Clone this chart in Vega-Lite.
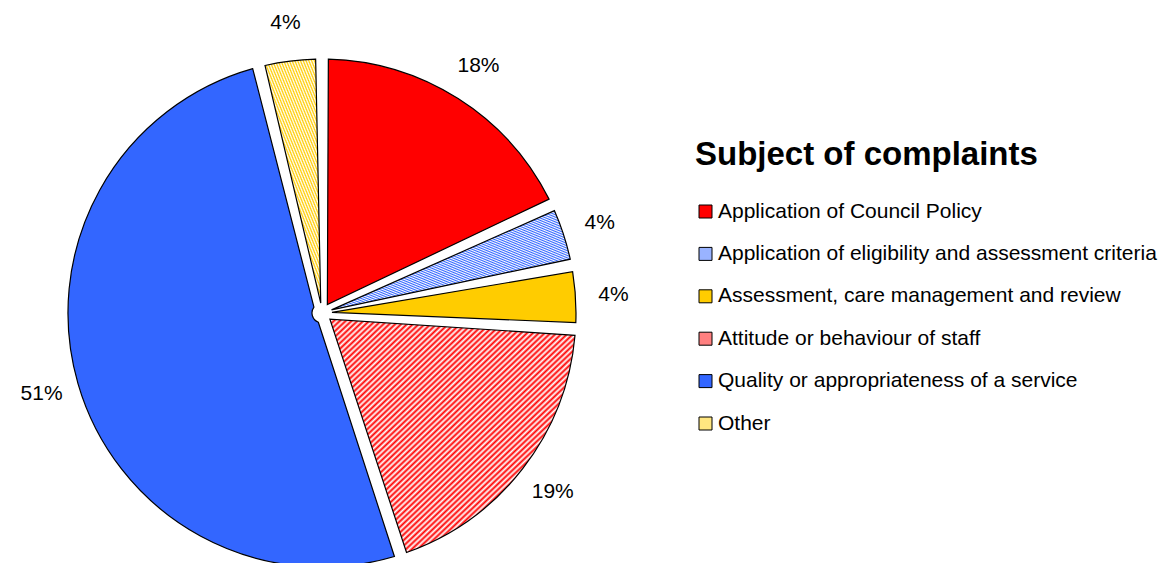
{
  "$schema": "https://vega.github.io/schema/vega-lite/v6.json",
  "width": 644,
  "height": 500,
  "autosize": {"type": "none"},
  "padding": {"left": 0, "top": 63, "right": 522, "bottom": 0},
  "background": "white",
  "config": {"view": {"stroke": null}, "font": "Liberation Sans"},
  "data": {"values": [
    {"n": 1, "subject": "Application of Council Policy", "share": 0.18},
    {"n": 2, "subject": "Application of eligibility and assessment criteria", "share": 0.04},
    {"n": 3, "subject": "Assessment, care management and review", "share": 0.04},
    {"n": 4, "subject": "Attitude or behaviour of staff", "share": 0.19},
    {"n": 5, "subject": "Quality or appropriateness of a service", "share": 0.51},
    {"n": 6, "subject": "Other", "share": 0.04}
  ]},
  "encoding": {
    "theta": {"field": "share", "type": "quantitative", "stack": true},
    "order": {"field": "n", "type": "quantitative"},
    "detail": {"field": "subject", "type": "nominal"}
  },
  "layer": [
    {
      "mark": {"type": "arc", "outerRadius": 254, "innerRadius": 10, "padAngle": 0.05, "stroke": "black", "strokeWidth": 1.2},
      "encoding": {
        "fill": {
          "field": "subject",
          "type": "nominal",
          "scale": {
            "domain": ["Application of Council Policy", "Application of eligibility and assessment criteria", "Assessment, care management and review", "Attitude or behaviour of staff", "Quality or appropriateness of a service", "Other"],
            "range": ["#FF0000", "#99B3FF", "#FFCC00", "#FF8080", "#3366FF", "#FFE680"]
          },
          "legend": {
            "title": "Subject of complaints",
            "orient": "none",
            "legendX": 695,
            "legendY": 76,
            "titleFont": "Liberation Sans",
            "titleFontSize": 33,
            "titleFontWeight": "bold",
            "titleColor": "black",
            "titleLimit": 700,
            "titlePadding": 29,
            "labelFont": "Liberation Sans",
            "labelFontSize": 21,
            "labelColor": "black",
            "labelLimit": 700,
            "labelOffset": 2,
            "symbolType": "square",
            "symbolSize": 169,
            "symbolStrokeColor": "black",
            "symbolStrokeWidth": 1,
            "rowPadding": 20.4
          },
          "condition": [
            {
              "test": "datum.subject === 'Attitude or behaviour of staff'",
              "value": {"gradient": "linear", "x1": 0, "y1": 0, "x2": 1, "y2": 1, "stops": [{"offset":0,"color":"#f00"},{"offset":0.006,"color":"#fff"},{"offset":0.012,"color":"#f00"},{"offset":0.018,"color":"#fff"},{"offset":0.024,"color":"#f00"},{"offset":0.03,"color":"#fff"},{"offset":0.036,"color":"#f00"},{"offset":0.042,"color":"#fff"},{"offset":0.048,"color":"#f00"},{"offset":0.054,"color":"#fff"},{"offset":0.06,"color":"#f00"},{"offset":0.066,"color":"#fff"},{"offset":0.072,"color":"#f00"},{"offset":0.078,"color":"#fff"},{"offset":0.084,"color":"#f00"},{"offset":0.09,"color":"#fff"},{"offset":0.096,"color":"#f00"},{"offset":0.102,"color":"#fff"},{"offset":0.108,"color":"#f00"},{"offset":0.114,"color":"#fff"},{"offset":0.12,"color":"#f00"},{"offset":0.126,"color":"#fff"},{"offset":0.132,"color":"#f00"},{"offset":0.138,"color":"#fff"},{"offset":0.144,"color":"#f00"},{"offset":0.15,"color":"#fff"},{"offset":0.156,"color":"#f00"},{"offset":0.162,"color":"#fff"},{"offset":0.168,"color":"#f00"},{"offset":0.174,"color":"#fff"},{"offset":0.18,"color":"#f00"},{"offset":0.186,"color":"#fff"},{"offset":0.192,"color":"#f00"},{"offset":0.198,"color":"#fff"},{"offset":0.204,"color":"#f00"},{"offset":0.21,"color":"#fff"},{"offset":0.216,"color":"#f00"},{"offset":0.222,"color":"#fff"},{"offset":0.228,"color":"#f00"},{"offset":0.234,"color":"#fff"},{"offset":0.24,"color":"#f00"},{"offset":0.246,"color":"#fff"},{"offset":0.252,"color":"#f00"},{"offset":0.258,"color":"#fff"},{"offset":0.264,"color":"#f00"},{"offset":0.27,"color":"#fff"},{"offset":0.276,"color":"#f00"},{"offset":0.282,"color":"#fff"},{"offset":0.288,"color":"#f00"},{"offset":0.294,"color":"#fff"},{"offset":0.3,"color":"#f00"},{"offset":0.306,"color":"#fff"},{"offset":0.312,"color":"#f00"},{"offset":0.318,"color":"#fff"},{"offset":0.324,"color":"#f00"},{"offset":0.33,"color":"#fff"},{"offset":0.336,"color":"#f00"},{"offset":0.342,"color":"#fff"},{"offset":0.348,"color":"#f00"},{"offset":0.354,"color":"#fff"},{"offset":0.36,"color":"#f00"},{"offset":0.366,"color":"#fff"},{"offset":0.372,"color":"#f00"},{"offset":0.378,"color":"#fff"},{"offset":0.384,"color":"#f00"},{"offset":0.39,"color":"#fff"},{"offset":0.396,"color":"#f00"},{"offset":0.402,"color":"#fff"},{"offset":0.408,"color":"#f00"},{"offset":0.414,"color":"#fff"},{"offset":0.42,"color":"#f00"},{"offset":0.426,"color":"#fff"},{"offset":0.432,"color":"#f00"},{"offset":0.438,"color":"#fff"},{"offset":0.444,"color":"#f00"},{"offset":0.45,"color":"#fff"},{"offset":0.456,"color":"#f00"},{"offset":0.462,"color":"#fff"},{"offset":0.468,"color":"#f00"},{"offset":0.474,"color":"#fff"},{"offset":0.48,"color":"#f00"},{"offset":0.486,"color":"#fff"},{"offset":0.492,"color":"#f00"},{"offset":0.498,"color":"#fff"},{"offset":0.504,"color":"#f00"},{"offset":0.51,"color":"#fff"},{"offset":0.516,"color":"#f00"},{"offset":0.522,"color":"#fff"},{"offset":0.528,"color":"#f00"},{"offset":0.534,"color":"#fff"},{"offset":0.54,"color":"#f00"},{"offset":0.546,"color":"#fff"},{"offset":0.552,"color":"#f00"},{"offset":0.558,"color":"#fff"},{"offset":0.564,"color":"#f00"},{"offset":0.57,"color":"#fff"},{"offset":0.576,"color":"#f00"},{"offset":0.582,"color":"#fff"},{"offset":0.588,"color":"#f00"},{"offset":0.594,"color":"#fff"},{"offset":0.6,"color":"#f00"},{"offset":0.606,"color":"#fff"},{"offset":0.612,"color":"#f00"},{"offset":0.618,"color":"#fff"},{"offset":0.624,"color":"#f00"},{"offset":0.63,"color":"#fff"},{"offset":0.636,"color":"#f00"},{"offset":0.642,"color":"#fff"},{"offset":0.648,"color":"#f00"},{"offset":0.654,"color":"#fff"},{"offset":0.66,"color":"#f00"},{"offset":0.666,"color":"#fff"},{"offset":0.672,"color":"#f00"},{"offset":0.678,"color":"#fff"},{"offset":0.684,"color":"#f00"},{"offset":0.69,"color":"#fff"},{"offset":0.696,"color":"#f00"},{"offset":0.702,"color":"#fff"},{"offset":0.708,"color":"#f00"},{"offset":0.714,"color":"#fff"},{"offset":0.72,"color":"#f00"},{"offset":0.726,"color":"#fff"},{"offset":0.732,"color":"#f00"},{"offset":0.738,"color":"#fff"},{"offset":0.744,"color":"#f00"},{"offset":0.75,"color":"#fff"},{"offset":0.756,"color":"#f00"},{"offset":0.762,"color":"#fff"},{"offset":0.768,"color":"#f00"},{"offset":0.774,"color":"#fff"},{"offset":0.78,"color":"#f00"},{"offset":0.786,"color":"#fff"},{"offset":0.792,"color":"#f00"},{"offset":0.798,"color":"#fff"},{"offset":0.804,"color":"#f00"},{"offset":0.81,"color":"#fff"},{"offset":0.816,"color":"#f00"},{"offset":0.822,"color":"#fff"},{"offset":0.828,"color":"#f00"},{"offset":0.834,"color":"#fff"},{"offset":0.84,"color":"#f00"},{"offset":0.846,"color":"#fff"},{"offset":0.852,"color":"#f00"},{"offset":0.858,"color":"#fff"},{"offset":0.864,"color":"#f00"},{"offset":0.87,"color":"#fff"},{"offset":0.876,"color":"#f00"},{"offset":0.882,"color":"#fff"},{"offset":0.888,"color":"#f00"},{"offset":0.894,"color":"#fff"},{"offset":0.9,"color":"#f00"},{"offset":0.906,"color":"#fff"},{"offset":0.912,"color":"#f00"},{"offset":0.918,"color":"#fff"},{"offset":0.924,"color":"#f00"},{"offset":0.93,"color":"#fff"},{"offset":0.936,"color":"#f00"},{"offset":0.942,"color":"#fff"},{"offset":0.948,"color":"#f00"},{"offset":0.954,"color":"#fff"},{"offset":0.96,"color":"#f00"},{"offset":0.966,"color":"#fff"},{"offset":0.972,"color":"#f00"},{"offset":0.978,"color":"#fff"},{"offset":0.984,"color":"#f00"},{"offset":0.99,"color":"#fff"},{"offset":0.996,"color":"#f00"}]}
            },
            {
              "test": "datum.subject === 'Application of eligibility and assessment criteria'",
              "value": {"gradient": "linear", "x1": 0, "y1": 1, "x2": 1, "y2": 0, "stops": [{"offset":0,"color":"#36f"},{"offset":0.006,"color":"#fff"},{"offset":0.012,"color":"#36f"},{"offset":0.018,"color":"#fff"},{"offset":0.024,"color":"#36f"},{"offset":0.03,"color":"#fff"},{"offset":0.036,"color":"#36f"},{"offset":0.042,"color":"#fff"},{"offset":0.048,"color":"#36f"},{"offset":0.054,"color":"#fff"},{"offset":0.06,"color":"#36f"},{"offset":0.066,"color":"#fff"},{"offset":0.072,"color":"#36f"},{"offset":0.078,"color":"#fff"},{"offset":0.084,"color":"#36f"},{"offset":0.09,"color":"#fff"},{"offset":0.096,"color":"#36f"},{"offset":0.102,"color":"#fff"},{"offset":0.108,"color":"#36f"},{"offset":0.114,"color":"#fff"},{"offset":0.12,"color":"#36f"},{"offset":0.126,"color":"#fff"},{"offset":0.132,"color":"#36f"},{"offset":0.138,"color":"#fff"},{"offset":0.144,"color":"#36f"},{"offset":0.15,"color":"#fff"},{"offset":0.156,"color":"#36f"},{"offset":0.162,"color":"#fff"},{"offset":0.168,"color":"#36f"},{"offset":0.174,"color":"#fff"},{"offset":0.18,"color":"#36f"},{"offset":0.186,"color":"#fff"},{"offset":0.192,"color":"#36f"},{"offset":0.198,"color":"#fff"},{"offset":0.204,"color":"#36f"},{"offset":0.21,"color":"#fff"},{"offset":0.216,"color":"#36f"},{"offset":0.222,"color":"#fff"},{"offset":0.228,"color":"#36f"},{"offset":0.234,"color":"#fff"},{"offset":0.24,"color":"#36f"},{"offset":0.246,"color":"#fff"},{"offset":0.252,"color":"#36f"},{"offset":0.258,"color":"#fff"},{"offset":0.264,"color":"#36f"},{"offset":0.27,"color":"#fff"},{"offset":0.276,"color":"#36f"},{"offset":0.282,"color":"#fff"},{"offset":0.288,"color":"#36f"},{"offset":0.294,"color":"#fff"},{"offset":0.3,"color":"#36f"},{"offset":0.306,"color":"#fff"},{"offset":0.312,"color":"#36f"},{"offset":0.318,"color":"#fff"},{"offset":0.324,"color":"#36f"},{"offset":0.33,"color":"#fff"},{"offset":0.336,"color":"#36f"},{"offset":0.342,"color":"#fff"},{"offset":0.348,"color":"#36f"},{"offset":0.354,"color":"#fff"},{"offset":0.36,"color":"#36f"},{"offset":0.366,"color":"#fff"},{"offset":0.372,"color":"#36f"},{"offset":0.378,"color":"#fff"},{"offset":0.384,"color":"#36f"},{"offset":0.39,"color":"#fff"},{"offset":0.396,"color":"#36f"},{"offset":0.402,"color":"#fff"},{"offset":0.408,"color":"#36f"},{"offset":0.414,"color":"#fff"},{"offset":0.42,"color":"#36f"},{"offset":0.426,"color":"#fff"},{"offset":0.432,"color":"#36f"},{"offset":0.438,"color":"#fff"},{"offset":0.444,"color":"#36f"},{"offset":0.45,"color":"#fff"},{"offset":0.456,"color":"#36f"},{"offset":0.462,"color":"#fff"},{"offset":0.468,"color":"#36f"},{"offset":0.474,"color":"#fff"},{"offset":0.48,"color":"#36f"},{"offset":0.486,"color":"#fff"},{"offset":0.492,"color":"#36f"},{"offset":0.498,"color":"#fff"},{"offset":0.504,"color":"#36f"},{"offset":0.51,"color":"#fff"},{"offset":0.516,"color":"#36f"},{"offset":0.522,"color":"#fff"},{"offset":0.528,"color":"#36f"},{"offset":0.534,"color":"#fff"},{"offset":0.54,"color":"#36f"},{"offset":0.546,"color":"#fff"},{"offset":0.552,"color":"#36f"},{"offset":0.558,"color":"#fff"},{"offset":0.564,"color":"#36f"},{"offset":0.57,"color":"#fff"},{"offset":0.576,"color":"#36f"},{"offset":0.582,"color":"#fff"},{"offset":0.588,"color":"#36f"},{"offset":0.594,"color":"#fff"},{"offset":0.6,"color":"#36f"},{"offset":0.606,"color":"#fff"},{"offset":0.612,"color":"#36f"},{"offset":0.618,"color":"#fff"},{"offset":0.624,"color":"#36f"},{"offset":0.63,"color":"#fff"},{"offset":0.636,"color":"#36f"},{"offset":0.642,"color":"#fff"},{"offset":0.648,"color":"#36f"},{"offset":0.654,"color":"#fff"},{"offset":0.66,"color":"#36f"},{"offset":0.666,"color":"#fff"},{"offset":0.672,"color":"#36f"},{"offset":0.678,"color":"#fff"},{"offset":0.684,"color":"#36f"},{"offset":0.69,"color":"#fff"},{"offset":0.696,"color":"#36f"},{"offset":0.702,"color":"#fff"},{"offset":0.708,"color":"#36f"},{"offset":0.714,"color":"#fff"},{"offset":0.72,"color":"#36f"},{"offset":0.726,"color":"#fff"},{"offset":0.732,"color":"#36f"},{"offset":0.738,"color":"#fff"},{"offset":0.744,"color":"#36f"},{"offset":0.75,"color":"#fff"},{"offset":0.756,"color":"#36f"},{"offset":0.762,"color":"#fff"},{"offset":0.768,"color":"#36f"},{"offset":0.774,"color":"#fff"},{"offset":0.78,"color":"#36f"},{"offset":0.786,"color":"#fff"},{"offset":0.792,"color":"#36f"},{"offset":0.798,"color":"#fff"},{"offset":0.804,"color":"#36f"},{"offset":0.81,"color":"#fff"},{"offset":0.816,"color":"#36f"},{"offset":0.822,"color":"#fff"},{"offset":0.828,"color":"#36f"},{"offset":0.834,"color":"#fff"},{"offset":0.84,"color":"#36f"},{"offset":0.846,"color":"#fff"},{"offset":0.852,"color":"#36f"},{"offset":0.858,"color":"#fff"},{"offset":0.864,"color":"#36f"},{"offset":0.87,"color":"#fff"},{"offset":0.876,"color":"#36f"},{"offset":0.882,"color":"#fff"},{"offset":0.888,"color":"#36f"},{"offset":0.894,"color":"#fff"},{"offset":0.9,"color":"#36f"},{"offset":0.906,"color":"#fff"},{"offset":0.912,"color":"#36f"},{"offset":0.918,"color":"#fff"},{"offset":0.924,"color":"#36f"},{"offset":0.93,"color":"#fff"},{"offset":0.936,"color":"#36f"},{"offset":0.942,"color":"#fff"},{"offset":0.948,"color":"#36f"},{"offset":0.954,"color":"#fff"},{"offset":0.96,"color":"#36f"},{"offset":0.966,"color":"#fff"},{"offset":0.972,"color":"#36f"},{"offset":0.978,"color":"#fff"},{"offset":0.984,"color":"#36f"},{"offset":0.99,"color":"#fff"},{"offset":0.996,"color":"#36f"}]}
            },
            {
              "test": "datum.subject === 'Other'",
              "value": {"gradient": "linear", "x1": 0, "y1": 0, "x2": 1, "y2": 1, "stops": [{"offset":0,"color":"#fc0"},{"offset":0.007,"color":"#fff"},{"offset":0.014,"color":"#fc0"},{"offset":0.021,"color":"#fff"},{"offset":0.028,"color":"#fc0"},{"offset":0.035,"color":"#fff"},{"offset":0.042,"color":"#fc0"},{"offset":0.049,"color":"#fff"},{"offset":0.056,"color":"#fc0"},{"offset":0.063,"color":"#fff"},{"offset":0.07,"color":"#fc0"},{"offset":0.077,"color":"#fff"},{"offset":0.084,"color":"#fc0"},{"offset":0.091,"color":"#fff"},{"offset":0.098,"color":"#fc0"},{"offset":0.105,"color":"#fff"},{"offset":0.112,"color":"#fc0"},{"offset":0.119,"color":"#fff"},{"offset":0.126,"color":"#fc0"},{"offset":0.133,"color":"#fff"},{"offset":0.14,"color":"#fc0"},{"offset":0.147,"color":"#fff"},{"offset":0.154,"color":"#fc0"},{"offset":0.161,"color":"#fff"},{"offset":0.168,"color":"#fc0"},{"offset":0.175,"color":"#fff"},{"offset":0.182,"color":"#fc0"},{"offset":0.189,"color":"#fff"},{"offset":0.196,"color":"#fc0"},{"offset":0.203,"color":"#fff"},{"offset":0.21,"color":"#fc0"},{"offset":0.217,"color":"#fff"},{"offset":0.224,"color":"#fc0"},{"offset":0.231,"color":"#fff"},{"offset":0.238,"color":"#fc0"},{"offset":0.245,"color":"#fff"},{"offset":0.252,"color":"#fc0"},{"offset":0.259,"color":"#fff"},{"offset":0.266,"color":"#fc0"},{"offset":0.273,"color":"#fff"},{"offset":0.28,"color":"#fc0"},{"offset":0.287,"color":"#fff"},{"offset":0.294,"color":"#fc0"},{"offset":0.301,"color":"#fff"},{"offset":0.308,"color":"#fc0"},{"offset":0.315,"color":"#fff"},{"offset":0.322,"color":"#fc0"},{"offset":0.329,"color":"#fff"},{"offset":0.336,"color":"#fc0"},{"offset":0.343,"color":"#fff"},{"offset":0.35,"color":"#fc0"},{"offset":0.357,"color":"#fff"},{"offset":0.364,"color":"#fc0"},{"offset":0.371,"color":"#fff"},{"offset":0.378,"color":"#fc0"},{"offset":0.385,"color":"#fff"},{"offset":0.392,"color":"#fc0"},{"offset":0.399,"color":"#fff"},{"offset":0.406,"color":"#fc0"},{"offset":0.413,"color":"#fff"},{"offset":0.42,"color":"#fc0"},{"offset":0.427,"color":"#fff"},{"offset":0.434,"color":"#fc0"},{"offset":0.441,"color":"#fff"},{"offset":0.448,"color":"#fc0"},{"offset":0.455,"color":"#fff"},{"offset":0.462,"color":"#fc0"},{"offset":0.469,"color":"#fff"},{"offset":0.476,"color":"#fc0"},{"offset":0.483,"color":"#fff"},{"offset":0.49,"color":"#fc0"},{"offset":0.497,"color":"#fff"},{"offset":0.504,"color":"#fc0"},{"offset":0.511,"color":"#fff"},{"offset":0.518,"color":"#fc0"},{"offset":0.525,"color":"#fff"},{"offset":0.532,"color":"#fc0"},{"offset":0.539,"color":"#fff"},{"offset":0.546,"color":"#fc0"},{"offset":0.553,"color":"#fff"},{"offset":0.56,"color":"#fc0"},{"offset":0.567,"color":"#fff"},{"offset":0.574,"color":"#fc0"},{"offset":0.581,"color":"#fff"},{"offset":0.588,"color":"#fc0"},{"offset":0.595,"color":"#fff"},{"offset":0.602,"color":"#fc0"},{"offset":0.609,"color":"#fff"},{"offset":0.616,"color":"#fc0"},{"offset":0.623,"color":"#fff"},{"offset":0.63,"color":"#fc0"},{"offset":0.637,"color":"#fff"},{"offset":0.644,"color":"#fc0"},{"offset":0.651,"color":"#fff"},{"offset":0.658,"color":"#fc0"},{"offset":0.665,"color":"#fff"},{"offset":0.672,"color":"#fc0"},{"offset":0.679,"color":"#fff"},{"offset":0.686,"color":"#fc0"},{"offset":0.693,"color":"#fff"},{"offset":0.7,"color":"#fc0"},{"offset":0.707,"color":"#fff"},{"offset":0.714,"color":"#fc0"},{"offset":0.721,"color":"#fff"},{"offset":0.728,"color":"#fc0"},{"offset":0.735,"color":"#fff"},{"offset":0.742,"color":"#fc0"},{"offset":0.749,"color":"#fff"},{"offset":0.756,"color":"#fc0"},{"offset":0.763,"color":"#fff"},{"offset":0.77,"color":"#fc0"},{"offset":0.777,"color":"#fff"},{"offset":0.784,"color":"#fc0"},{"offset":0.791,"color":"#fff"},{"offset":0.798,"color":"#fc0"},{"offset":0.805,"color":"#fff"},{"offset":0.812,"color":"#fc0"},{"offset":0.819,"color":"#fff"},{"offset":0.826,"color":"#fc0"},{"offset":0.833,"color":"#fff"},{"offset":0.84,"color":"#fc0"},{"offset":0.847,"color":"#fff"},{"offset":0.854,"color":"#fc0"},{"offset":0.861,"color":"#fff"},{"offset":0.868,"color":"#fc0"},{"offset":0.875,"color":"#fff"},{"offset":0.882,"color":"#fc0"},{"offset":0.889,"color":"#fff"},{"offset":0.896,"color":"#fc0"},{"offset":0.903,"color":"#fff"},{"offset":0.91,"color":"#fc0"},{"offset":0.917,"color":"#fff"},{"offset":0.924,"color":"#fc0"},{"offset":0.931,"color":"#fff"},{"offset":0.938,"color":"#fc0"},{"offset":0.945,"color":"#fff"},{"offset":0.952,"color":"#fc0"},{"offset":0.959,"color":"#fff"},{"offset":0.966,"color":"#fc0"},{"offset":0.973,"color":"#fff"},{"offset":0.98,"color":"#fc0"},{"offset":0.987,"color":"#fff"},{"offset":0.994,"color":"#fc0"}]}
            }
          ]
        }
      }
    },
    {
      "mark": {"type": "text", "radius": 292, "fontSize": 21, "font": "Liberation Sans", "color": "black"},
      "encoding": {
        "text": {"field": "share", "type": "quantitative", "format": ".0%"}
      }
    }
  ]
}
